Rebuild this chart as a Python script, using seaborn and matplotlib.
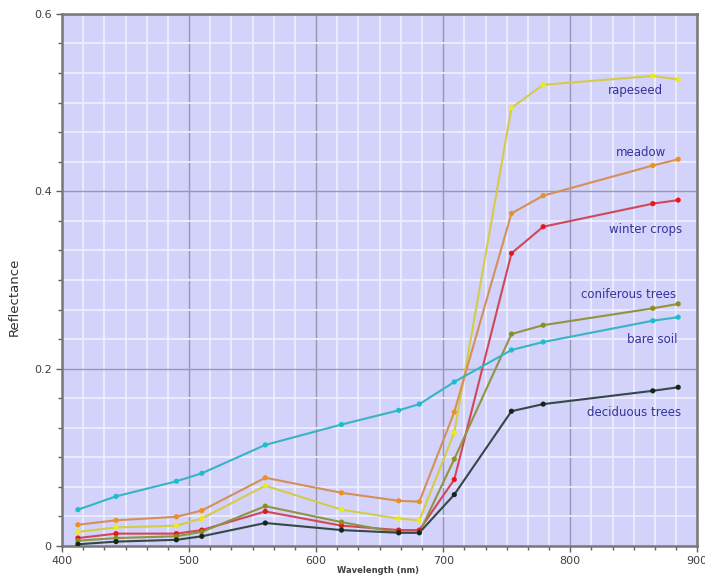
import matplotlib

matplotlib.use("Agg")
import matplotlib.pyplot as plt
import pandas as pd
import seaborn as sns
from matplotlib.ticker import MultipleLocator, FixedLocator

# MERIS band centres (nm)
wavelength = [412.5, 442.5, 490, 510, 560, 620, 665, 681.25, 708.75, 753.75, 778.75, 865, 885]

rapeseed = [0.016, 0.021, 0.023, 0.031, 0.068, 0.041, 0.031, 0.029, 0.128, 0.494, 0.520, 0.530, 0.526]
meadow = [0.024, 0.029, 0.033, 0.040, 0.077, 0.060, 0.051, 0.050, 0.151, 0.375, 0.395, 0.429, 0.436]
winter_crops = [0.009, 0.014, 0.014, 0.018, 0.039, 0.023, 0.018, 0.018, 0.075, 0.330, 0.360, 0.386, 0.390]
coniferous = [0.006, 0.009, 0.011, 0.016, 0.045, 0.027, 0.015, 0.015, 0.098, 0.239, 0.249, 0.268, 0.273]
bare_soil = [0.041, 0.056, 0.073, 0.082, 0.114, 0.137, 0.153, 0.160, 0.185, 0.221, 0.230, 0.254, 0.258]
deciduous = [0.002, 0.005, 0.007, 0.011, 0.026, 0.018, 0.015, 0.015, 0.058, 0.152, 0.160, 0.175, 0.179]

names = ["rapeseed", "meadow", "winter crops", "coniferous trees", "bare soil", "deciduous trees"]
series = [rapeseed, meadow, winter_crops, coniferous, bare_soil, deciduous]

LINE_COLORS = ["#d4cc48", "#d49058", "#d04858", "#909440", "#38b4c4", "#344848"]
MARKER_COLORS = ["#ecec10", "#f09018", "#e81818", "#8c9018", "#18c0cc", "#102818"]

# label anchor points (data coords)
label_x = [851, 856, 859.5, 846, 864.5, 850]
label_y = [0.513, 0.444, 0.357, 0.284, 0.233, 0.151]

df = pd.DataFrame(
    [(w, v, n) for n, s in zip(names, series) for w, v in zip(wavelength, s)],
    columns=["wavelength", "reflectance", "surface"],
)

fig = plt.figure(figsize=(7.05, 5.76), dpi=100)
ax = fig.add_axes([0.088, 0.052, 0.901, 0.924])
ax.set_facecolor("#d2d2fa")

sns.lineplot(data=df, x="wavelength", y="reflectance", hue="surface",
             palette=dict(zip(names, LINE_COLORS)), lw=1.5, legend=False, ax=ax, zorder=3)
sns.scatterplot(data=df, x="wavelength", y="reflectance", hue="surface",
                palette=dict(zip(names, MARKER_COLORS)), s=14, linewidth=0,
                legend=False, ax=ax, zorder=4)

for n, x, y in zip(names, label_x, label_y):
    ax.text(x, y, n, color="#34349a", fontsize=8.5, ha="center", va="center", zorder=5)

ax.set_xlim(400, 900)
ax.set_ylim(0, 0.6)
ax.xaxis.set_major_locator(MultipleLocator(100))
ax.xaxis.set_minor_locator(MultipleLocator(100 / 6))
ax.yaxis.set_major_locator(FixedLocator([0, 0.2, 0.4, 0.6]))
ax.yaxis.set_minor_locator(MultipleLocator(0.2 / 6))
ax.set_yticklabels(["0", "0.2", "0.4", "0.6"])

ax.grid(which="minor", color="#f0f0ff", lw=1.2, zorder=0)
ax.grid(which="major", color="#9898b0", lw=1.0, zorder=1)
ax.set_axisbelow(True)

for side in ["left", "bottom", "top", "right"]:
    ax.spines[side].set_color("#787878")
    ax.spines[side].set_linewidth(1.8)

ax.tick_params(which="both", colors="#606060", labelcolor="#404040", labelsize=8, length=3, width=1)
ax.tick_params(which="major", length=4)

ax.set_xlabel("Wavelength (nm)", fontsize=6, fontweight="bold", color="#404040")
ax.xaxis.set_label_coords(0.497, -0.038)
ax.set_ylabel("Reflectance", fontsize=9.5, color="#303030")
ax.yaxis.set_label_coords(-0.065, 0.468)

fig.savefig("out.png", dpi=100)
